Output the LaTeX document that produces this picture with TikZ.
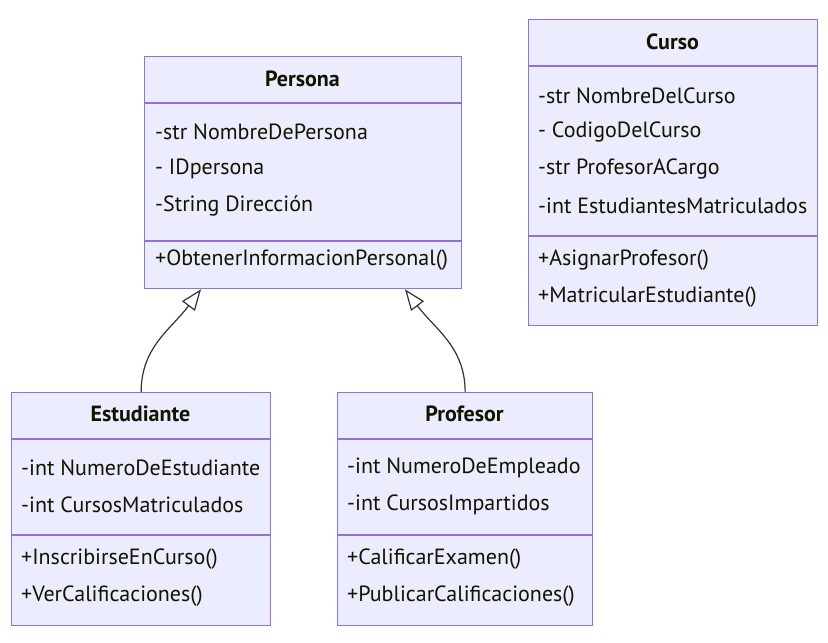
\documentclass[tikz,border=0pt]{standalone}
\usepackage{fontspec}
\setmainfont{PT Sans}
\usetikzlibrary{arrows.meta,calc}
\definecolor{boxfill}{HTML}{ECECFF}
\definecolor{boxline}{HTML}{9370DB}
\definecolor{txt}{HTML}{131300}
\definecolor{edge}{HTML}{333333}
\tikzset{
  umlbox/.style={draw=boxline, fill=boxfill, line width=1.3pt, anchor=north west, inner sep=0pt},
  divider/.style={draw=boxline, line width=1.3pt},
  title/.style={font=\fontsize{22}{26}\selectfont\bfseries, text=txt, inner sep=0pt},
  member/.style={font=\fontsize{22}{26}\selectfont, text=txt, anchor=west, inner sep=0pt},
  inherit/.style={draw=edge, line width=1.2pt, -{Triangle[open,length=21pt,width=16pt,fill=white]}}
}
\begin{document}
\begin{tikzpicture}[x=1pt,y=-1pt]
\useasboundingbox (0,0) rectangle (828,643);
% Persona
\node[umlbox, minimum width=317pt, minimum height=232pt] (persona) at (144,56) {};
\draw[divider] (144,103) -- (461,103);
\draw[divider] (144,241) -- (461,241);
\node[title] (personaT) at (302.5,79) {Persona};
\node[member] (p1) at (155,132) {-str NombreDePersona};
\node[member] (p2) at (155,169) {- IDpersona};
\node[member] (p3) at (155,206) {-String Dirección};
\node[member] (p4) at (155,260) {+ObtenerInformacionPersonal()};
% Curso
\node[umlbox, minimum width=289pt, minimum height=306pt] (curso) at (528,19) {};
\draw[divider] (528,66) -- (817,66);
\draw[divider] (528,236) -- (817,236);
\node[title] (cursoT) at (672.5,42) {Curso};
\node[member] (c1) at (538,96) {-str NombreDelCurso};
\node[member] (c2) at (538,132) {- CodigoDelCurso};
\node[member] (c3) at (538,169) {-str ProfesorACargo};
\node[member] (c4) at (538,206) {-int EstudiantesMatriculados};
\node[member] (c5) at (538,260) {+AsignarProfesor()};
\node[member] (c6) at (538,297) {+MatricularEstudiante()};
% Estudiante
\node[umlbox, minimum width=259pt, minimum height=233pt] (est) at (11,392) {};
\draw[divider] (11,439) -- (270,439);
\draw[divider] (11,535) -- (270,535);
\node[title] (estT) at (140.5,414) {Estudiante};
\node[member] (e1) at (21,468) {-int NumeroDeEstudiante};
\node[member] (e2) at (21,505) {-int CursosMatriculados};
\node[member] (e3) at (21,559) {+InscribirseEnCurso()};
\node[member] (e4) at (21,596) {+VerCalificaciones()};
% Profesor
\node[umlbox, minimum width=255pt, minimum height=233pt] (prof) at (337,392) {};
\draw[divider] (337,439) -- (592,439);
\draw[divider] (337,535) -- (592,535);
\node[title] (profT) at (464.5,414) {Profesor};
\node[member] (f1) at (347,468) {-int NumeroDeEmpleado};
\node[member] (f2) at (347,505) {-int CursosImpartidos};
\node[member] (f3) at (347,559) {+CalificarExamen()};
\node[member] (f4) at (347,596) {+PublicarCalificaciones()};
% connectors
\coordinate (pin1) at ($(persona.south west)+(57,0)$);
\coordinate (pin2) at ($(persona.south west)+(261,0)$);
\draw[inherit] (est.north) .. controls ($(est.north)+(0,-45)$) and ($(pin1)+(-30,40)$) .. (pin1);
\draw[inherit] (prof.north) .. controls ($(prof.north)+(0,-45)$) and ($(pin2)+(30,40)$) .. (pin2);
\end{tikzpicture}
\end{document}
